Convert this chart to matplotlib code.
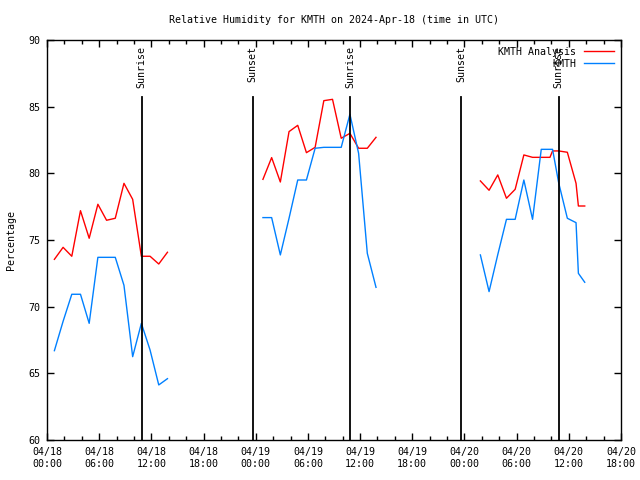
import numpy as np
import matplotlib
matplotlib.use("Agg")
import matplotlib.pyplot as plt
from matplotlib.ticker import MultipleLocator

plt.rcParams['font.family'] = ['DejaVu Sans Mono']
plt.rcParams['font.size'] = 7.2

# hours since 2024-04-18 00:00 UTC, nan = gap in the record
hours = [0.85, 1.85, 2.85, 3.85, 4.85, 5.85, 6.85, 7.85, 8.85, 9.85, 10.85, 11.85, 12.85, 13.85,
         np.nan,
         24.83, 25.83, 26.83, 27.83, 28.83, 29.83, 30.83, 31.83, 32.83, 33.83, 34.83, 35.83, 36.83, 37.83,
         np.nan,
         49.83, 50.83, 51.83, 52.83, 53.83, 54.83, 55.83, 56.83, 57.83, 58.13, 58.83, 59.83, 60.83, 61.1, 61.83]

analysis = [73.55, 74.45, 73.78, 77.2, 75.13, 77.68, 76.48, 76.63, 79.25, 78.05, 73.78, 73.78, 73.2, 74.08,
            np.nan,
            79.55, 81.18, 79.35, 83.13, 83.6, 81.55, 81.95, 85.45, 85.55, 82.63, 83.0, 81.88, 81.88, 82.7,
            np.nan,
            79.43, 78.73, 79.88, 78.13, 78.8, 81.38, 81.2, 81.2, 81.2, 81.68, 81.68, 81.58, 79.25, 77.55, 77.55]

obs = [66.7, 68.9, 70.93, 70.93, 68.75, 73.7, 73.7, 73.7, 71.6, 66.25, 68.75, 66.75, 64.13, 64.6,
       np.nan,
       76.68, 76.68, 73.88, 76.63, 79.5, 79.5, 81.88, 81.95, 81.95, 81.95, 84.43, 81.5, 74.0, 71.45,
       np.nan,
       73.88, 71.13, 73.9, 76.55, 76.55, 79.5, 76.55, 81.8, 81.8, 81.8, 79.3, 76.63, 76.3, 72.5, 71.83]

sun_times = [10.88, 23.65, 34.87, 47.66, 58.85]
sun_names = ["Sunrise", "Sunset", "Sunrise", "Sunset", "Sunrise"]

tick_hours = np.arange(0, 67, 6)
tick_labels = ["04/18\n00:00", "04/18\n06:00", "04/18\n12:00", "04/18\n18:00",
               "04/19\n00:00", "04/19\n06:00", "04/19\n12:00", "04/19\n18:00",
               "04/20\n00:00", "04/20\n06:00", "04/20\n12:00", "04/20\n18:00"]

fig = plt.figure(figsize=(6.4, 4.8), dpi=100)
ax = fig.add_axes([47 / 640, 40 / 480, 574 / 640, 400 / 480])

ax.plot(hours, analysis, color='#ff0000', lw=1.0, label='KMTH Analysis')
ax.plot(hours, obs, color='#0080ff', lw=1.0, label='KMTH')

for t, name in zip(sun_times, sun_names):
    ax.axvline(t, ymin=0, ymax=0.857, color='black', lw=1.3)
    ax.text(t, 89.55, name, rotation=90, ha='center', va='top', fontsize=7.2)

ax.set_xlim(0, 66)
ax.set_ylim(60, 90)
ax.set_xticks(tick_hours)
ax.set_xticklabels(tick_labels)
ax.xaxis.set_minor_locator(MultipleLocator(2))
ax.set_yticks(np.arange(60, 91, 5))
ax.tick_params(which='both', direction='in', top=True, right=True, width=1)
ax.tick_params(which='major', length=5, pad=5)
ax.tick_params(which='minor', length=3)
for s in ax.spines.values():
    s.set_linewidth(1.0)

ax.set_ylabel('Percentage', labelpad=9)
ax.set_title('Relative Humidity for KMTH on 2024-Apr-18 (time in UTC)', fontsize=7.2, pad=12)

leg = ax.legend(loc='upper right', frameon=False, markerfirst=False, handlelength=3.0,
                borderaxespad=0.3, labelspacing=0.2, handletextpad=0.8, fontsize=7.2)
for txt in leg.get_texts():
    txt.set_ha('right')
leg._legend_box.align = 'right'

fig.savefig('out.png', dpi=100)
